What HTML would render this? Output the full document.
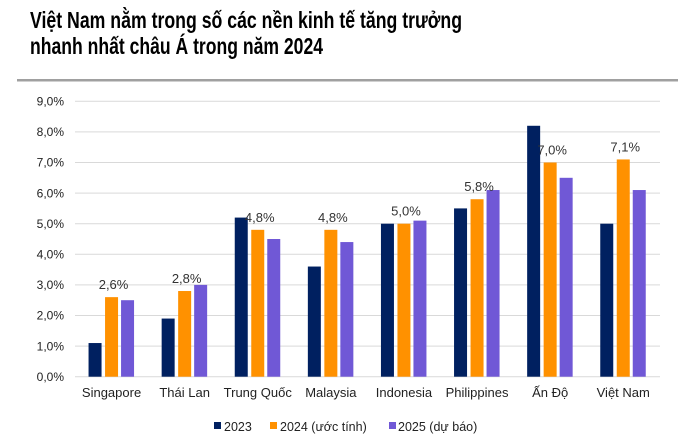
<!DOCTYPE html>
<html><head><meta charset="utf-8"><style>
html,body{margin:0;padding:0;background:#fff;}
svg{display:block;font-family:"Liberation Sans",Arial,sans-serif;}
</style></head><body>
<svg width="678" height="444" viewBox="0 0 678 444" xmlns="http://www.w3.org/2000/svg">
<text x="30" y="28" font-family="'Liberation Sans Narrow','Liberation Sans',sans-serif" font-weight="bold" font-size="23" fill="#000" textLength="432" lengthAdjust="spacingAndGlyphs">Việt Nam nằm trong số các nền kinh tế tăng trưởng</text>
<text x="30" y="54" font-family="'Liberation Sans Narrow','Liberation Sans',sans-serif" font-weight="bold" font-size="23" fill="#000" textLength="293" lengthAdjust="spacingAndGlyphs">nhanh nhất châu Á trong năm 2024</text>
<rect x="17" y="79" width="661" height="2.5" fill="#a0a0a0"/>
<g stroke="#d9d9d9" stroke-width="1">
<line x1="75" x2="660" y1="101.3" y2="101.3"/>
<line x1="75" x2="660" y1="131.9" y2="131.9"/>
<line x1="75" x2="660" y1="162.5" y2="162.5"/>
<line x1="75" x2="660" y1="193.1" y2="193.1"/>
<line x1="75" x2="660" y1="223.7" y2="223.7"/>
<line x1="75" x2="660" y1="254.3" y2="254.3"/>
<line x1="75" x2="660" y1="284.9" y2="284.9"/>
<line x1="75" x2="660" y1="315.5" y2="315.5"/>
<line x1="75" x2="660" y1="346.1" y2="346.1"/>
<line x1="75" x2="660" y1="376.7" y2="376.7"/>
</g>
<g font-size="12" fill="#222" text-anchor="end">
<text x="64" y="105.5">9,0%</text><text x="64" y="136">8,0%</text><text x="64" y="166.7">7,0%</text>
<text x="64" y="197.3">6,0%</text><text x="64" y="228">5,0%</text><text x="64" y="258.5">4,0%</text>
<text x="64" y="289">3,0%</text><text x="64" y="319.7">2,0%</text><text x="64" y="350.3">1,0%</text>
<text x="64" y="381">0,0%</text>
</g>
<g id="bars"></g>
<g font-size="13" fill="#222" text-anchor="middle" id="cats"></g>
<g font-size="13" fill="#333" text-anchor="middle" id="lbls"></g>
<rect x="214" y="422" width="7" height="7" fill="#002060"/>
<text x="224" y="431" font-size="12.5" fill="#222">2023</text>
<rect x="270" y="422" width="7" height="7" fill="#ff9100"/>
<text x="280" y="431" font-size="12.5" fill="#222">2024 (ước tính)</text>
<rect x="389" y="422" width="7" height="7" fill="#7058d6"/>
<text x="398" y="431" font-size="12.5" fill="#222">2025 (dự báo)</text>
<script>
var d=[["Singapore",1.1,2.6,2.5],["Thái Lan",1.9,2.8,3.0],["Trung Quốc",5.2,4.8,4.5],["Malaysia",3.6,4.8,4.4],["Indonesia",5.0,5.0,5.1],["Philippines",5.5,5.8,6.1],["Ấn Độ",8.2,7.0,6.5],["Việt Nam",5.0,7.1,6.1]];
var cols=["#002060","#ff9100","#7058d6"],offs=[-16.5,0,16];
var ns="http://www.w3.org/2000/svg",B=document.getElementById("bars"),C=document.getElementById("cats"),L=document.getElementById("lbls");
function el(t,a,p,txt){var e=document.createElementNS(ns,t);for(var k in a)e.setAttribute(k,a[k]);if(txt)e.textContent=txt;p.appendChild(e);}
d.forEach(function(r,i){var c=75+73.1*(i+0.5);
for(var j=0;j<3;j++){var h=r[j+1]*30.6;el("rect",{x:c+offs[j]-6.5,y:376.7-h,width:13,height:h,fill:cols[j]},B);}
el("text",{x:c,y:397},C,r[0]);
el("text",{x:c+2,y:376.7-r[2]*30.6-8},L,r[2].toFixed(1).replace(".",",")+"%");});
</script>
</svg>
</body></html>
